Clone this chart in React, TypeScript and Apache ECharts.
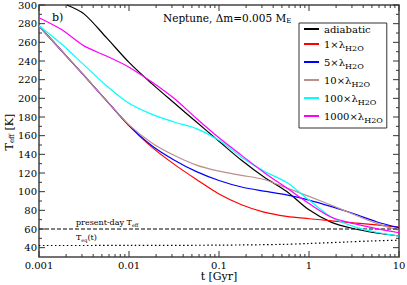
import React, { useEffect, useRef } from 'react';
import * as echarts from 'echarts';

// time grid (Gyr)
const tGyr = [0.001, 0.00178, 0.00316, 0.00562, 0.01, 0.0178, 0.0316, 0.0562, 0.1, 0.178, 0.316, 0.562, 1, 1.78, 3.16, 5.62, 10];
const tAdiabatic = [0.00204, 0.00316, 0.00562, 0.01, 0.0178, 0.0316, 0.0562, 0.1, 0.178, 0.316, 0.562, 1, 1.78, 3.16, 5.62, 10];
const adiabatic = [300, 290.5, 265, 238.5, 216, 195.2, 174.6, 154, 133.6, 115.7, 100.4, 80.5, 67.1, 60.3, 55.7, 52.5];
const lam1 = [277.5, 251, 224.5, 197.5, 170.5, 148, 129.5, 113, 97.5, 86, 78, 73.5, 71, 68.8, 66.5, 64.5, 62];
const lam5 = [277.5, 251, 224.5, 197.5, 171, 149.5, 134, 121.5, 112, 105, 100.5, 96.5, 91, 84, 76.3, 67.8, 61.4];
const lam10 = [277.5, 251, 224.5, 197.5, 171.5, 152.5, 139, 128.5, 122, 117.5, 113, 104, 95, 85.5, 75.5, 66, 58.6];
const lam100 = [277.8, 258.2, 235.8, 213.5, 194.7, 183.1, 174.7, 167.5, 155, 137, 122, 110, 91, 72.5, 62.5, 56.5, 52.5];
const lam1000 = [286.4, 273.7, 256.2, 245.3, 233.4, 217.7, 200, 178.4, 157.7, 138.9, 120.6, 104.1, 87.3, 72.6, 65.7, 60.4, 56];
const tTeq = [0.001, 0.01, 0.1, 0.5, 1, 2.5, 5, 10];
const teq = [42.3, 42.4, 42.7, 43.5, 44.5, 46, 47.2, 48];
const presentDay = 60;

const seriesNames = ['adiabatic', '1×λH2O', '5×λH2O', '10×λH2O', '100×λH2O', '1000×λH2O'];
const seriesColors = ['#000000', '#ff0000', '#0000ff', '#bc8f8f', '#00ffff', '#ff00ff'];

const X_MIN = 0.001, X_MAX = 10, Y_MIN = 30, Y_MAX = 300;
const xMajor = [0.001, 0.01, 0.1, 1, 10];
const decades = [0.001, 0.01, 0.1, 1];
const mult = [2, 3, 4, 5, 6, 7, 8, 9];
const yMajor = [40, 60, 80, 100, 120, 140, 160, 180, 200, 220, 240, 260, 280, 300];
const yMinor = [50, 70, 90, 110, 130, 150, 170, 190, 210, 230, 250, 270, 290];

const FONT = 'DejaVu Serif';

export default function App() {
  const ref = useRef<HTMLDivElement>(null);
  useEffect(() => {
    if (!ref.current) return;
    const chart = echarts.init(ref.current, undefined, { renderer: 'svg' });

    const tickData: number[][] = [];
    xMajor.forEach((v) => tickData.push([v, Y_MIN, 0]));
    decades.forEach((d) => mult.forEach((m) => tickData.push([d * m, Y_MIN, 1])));
    yMajor.forEach((v) => tickData.push([X_MIN, v, 2]));
    yMinor.forEach((v) => tickData.push([X_MIN, v, 3]));

    const renderTick = (_p: any, api: any) => {
      const xv = api.value(0), yv = api.value(1), kind = api.value(2);
      const bl = api.coord([X_MIN, Y_MIN]);
      const tr = api.coord([X_MAX, Y_MAX]);
      const style = { stroke: '#333', lineWidth: 1 };
      if (kind < 2) {
        const x = api.coord([xv, Y_MIN])[0];
        const len = kind === 0 ? 6 : 3;
        return {
          type: 'group',
          children: [
            { type: 'line', shape: { x1: x, y1: bl[1], x2: x, y2: bl[1] - len }, style },
            { type: 'line', shape: { x1: x, y1: tr[1], x2: x, y2: tr[1] + len }, style },
          ],
        };
      }
      const y = api.coord([X_MIN, yv])[1];
      const len = kind === 2 ? 6 : 3;
      return {
        type: 'group',
        children: [
          { type: 'line', shape: { x1: bl[0], y1: y, x2: bl[0] + len, y2: y }, style },
          { type: 'line', shape: { x1: tr[0], y1: y, x2: tr[0] - len, y2: y }, style },
        ],
      };
    };

    const curves = [adiabatic, lam1, lam5, lam10, lam100, lam1000];
    const lineSeries = curves.map((vals, i) => ({
      name: seriesNames[i],
      type: 'line',
      data: vals.map((v, j) => [i === 0 ? tAdiabatic[j] : tGyr[j], v]),
      showSymbol: false,
      symbol: 'none',
      smooth: 0.3,
      lineStyle: { color: seriesColors[i], width: 1.2 },
      itemStyle: { color: seriesColors[i] },
      z: 3,
    }));

    const sub = (size: number, pad: number) => ({ fontFamily: FONT, fontSize: size, padding: [pad, 0, 0, 0], color: '#000' });
    const norm = (size: number) => ({ fontFamily: FONT, fontSize: size, color: '#000' });

    chart.setOption({
      animation: false,
      textStyle: { fontFamily: FONT },
      grid: {
        left: 39, top: 5, width: 360, height: 252,
        outerBoundsMode: 'none', containLabel: false,
        show: true, borderColor: '#444', borderWidth: 1.5,
      },
      xAxis: {
        type: 'log',
        logBase: 10,
        min: X_MIN,
        max: X_MAX,
        axisLine: { show: false },
        axisTick: { show: false },
        splitLine: { show: false },
        axisLabel: {
          margin: 3,
          fontFamily: FONT,
          fontSize: 10,
          color: '#000',
          formatter: (v: number) => String(Number(v.toPrecision(1))),
        },
      },
      yAxis: {
        type: 'value',
        min: Y_MIN,
        max: Y_MAX,
        interval: 10,
        axisLine: { show: false },
        axisTick: { show: false },
        splitLine: { show: false },
        axisLabel: {
          margin: 2,
          fontFamily: FONT,
          fontSize: 10,
          color: '#000',
          formatter: (v: number) => (v % 20 === 0 ? String(v) : ''),
        },
      },
      legend: {
        data: seriesNames,
        orient: 'vertical',
        left: 299,
        top: 23,
        padding: [1, 4, 4, 5],
        borderColor: '#333',
        borderWidth: 1,
        itemGap: 5,
        itemWidth: 15,
        itemHeight: 2,
        itemTextGap: 6,
        icon: 'rect',
        textStyle: {
          fontFamily: FONT,
          fontSize: 10,
          color: '#000',
          rich: { n: norm(10), s: sub(8, 8) },
        },
        formatter: (name: string) => {
          const k = name.indexOf('H2O');
          if (k < 0) return '{n|' + name + '}';
          return '{n|' + name.slice(0, k) + '}{s|H2O}';
        },
      },
      graphic: [
        {
          type: 'text',
          x: 219,
          y: 276,
          style: { text: 't [Gyr]', fontFamily: FONT, fontSize: 11, fill: '#000', align: 'center', verticalAlign: 'middle' },
        },
        {
          type: 'text',
          x: 9,
          y: 132,
          rotation: Math.PI / 2,
          style: {
            text: '{a|T}{s|eff}{a| [K]}',
            fontFamily: FONT,
            fontSize: 11,
            fill: '#000',
            align: 'center',
            verticalAlign: 'middle',
            rich: { a: norm(11), s: sub(7, 6) },
          },
        },
        {
          type: 'text',
          x: 52,
          y: 17,
          style: { text: 'b)', fontFamily: FONT, fontSize: 11, fill: '#000', verticalAlign: 'middle' },
        },
        {
          type: 'text',
          x: 163,
          y: 18,
          style: {
            text: '{n|Neptune, Δm=0.005 M}{s|E}',
            fontFamily: FONT,
            fontSize: 10.5,
            fill: '#000',
            verticalAlign: 'middle',
            rich: { n: norm(10.5), s: sub(7, 6) },
          },
        },
        {
          type: 'text',
          x: 76,
          y: 222,
          style: {
            text: '{n|present-day T}{s|eff}',
            fontFamily: FONT,
            fontSize: 8,
            fill: '#000',
            verticalAlign: 'middle',
            rich: { n: norm(8), s: sub(5, 5) },
          },
        },
        {
          type: 'text',
          x: 76,
          y: 237,
          style: {
            text: '{n|T}{s|eq}{n|(t)}',
            fontFamily: FONT,
            fontSize: 8,
            fill: '#000',
            verticalAlign: 'middle',
            rich: { n: norm(8), s: sub(5, 5) },
          },
        },
      ],
      series: [
        ...lineSeries,
        {
          name: 'present-day',
          type: 'line',
          data: [[X_MIN, presentDay], [X_MAX, presentDay]],
          symbol: 'none',
          lineStyle: { color: '#000', width: 1, type: [4, 2] },
          z: 2,
        },
        {
          name: 'Teq',
          type: 'line',
          data: tTeq.map((t, j) => [t, teq[j]]),
          symbol: 'none',
          smooth: 0.3,
          lineStyle: { color: '#000', width: 1.2, type: [1.5, 2.5] },
          z: 2,
        },
        {
          name: 'ticks',
          type: 'custom',
          renderItem: renderTick,
          data: tickData,
          silent: true,
          z: 5,
        },
      ],
    });
    return () => chart.dispose();
  }, []);
  return <div ref={ref} style={{ width: 407, height: 285, position: 'absolute', left: 0, top: 0 }} />;
}
